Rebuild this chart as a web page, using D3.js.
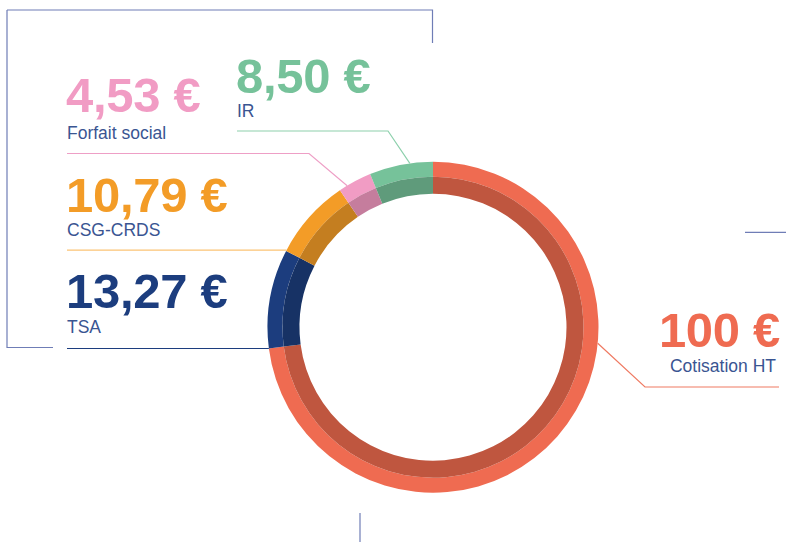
<!DOCTYPE html>
<html>
<head>
<meta charset="utf-8">
<script src="https://cdn.jsdelivr.net/npm/d3@7"></script>
<style>
  html, body { margin: 0; padding: 0; background: #fff; }
  svg { display: block; }
</style>
</head>
<body>
<div id="chart"></div>
<script>
// data
const categories = ["Cotisation HT", "TSA", "CSG-CRDS", "Forfait social", "IR"];
const amounts = [100, 13.27, 10.79, 4.53, 8.50];
const amountLabels = ["100 €", "13,27 €", "10,79 €", "4,53 €", "8,50 €"];
const lightColors = ["#ef6b51", "#1c3d7e", "#f39c27", "#f19cc4", "#76c29a"];
const darkColors = ["#bf563f", "#173265", "#c47e20", "#c57d9d", "#5f9b7b"];
const lineColors = ["#ef7a62", "#1c3d7e", "#fbc374", "#ee9fc6", "#8dd0ac"];

const width = 786, height = 542;
const cx = 433, cy = 327.2;
const rOuter = 165.5, rMid = 150.5, rInner = 133.5;

// label placement (layout only)
const layout = {
  "Cotisation HT": { x: 780, y: 347, subX: 776, subY: 372, anchor: "end", t: 0.364, pts: [[645, 387], [779, 387]] },
  "TSA":           { x: 66, y: 308, subX: 67, subY: 333, anchor: "start", t: 0.0, pts: [[67, null]] },
  "CSG-CRDS":      { x: 66, y: 211.5, subX: 67, subY: 236, anchor: "start", t: 0.01, pts: [[67, null]] },
  "Forfait social":{ x: 66, y: 111.5, subX: 67, subY: 139, anchor: "start", t: 0.25, pts: [[309, 153.5], [67, 153.5]] },
  "IR":            { x: 236, y: 92.5, subX: 237, subY: 117, anchor: "start", t: 0.64, pts: [[388, 131], [237, 131]] }
};

const svg = d3.select("#chart")
    .append("svg")
    .attr("width", width)
    .attr("height", height);

// decorative frame lines
const frameColor = "#6f7db6";
const frame = [
  [[7, 10], [432.5, 10], [432.5, 43]],
  [[7, 10], [7, 347.5], [53, 347.5]],
  [[745, 232.3], [786, 232.3]],
  [[360, 513], [360, 542]]
];
svg.selectAll("polyline.frame")
    .data(frame)
    .join("polyline")
    .attr("class", "frame")
    .attr("points", d => d.join(" "))
    .attr("fill", "none")
    .attr("stroke", frameColor)
    .attr("stroke-width", 1.2);

const pie = d3.pie()
    .sort(null)
    .value(d => d.value);

const data = categories.map((c, i) => ({ name: c, value: amounts[i], i: i }));
const slices = pie(data);

const arcOuter = d3.arc().innerRadius(rMid).outerRadius(rOuter);
const arcInner = d3.arc().innerRadius(rInner).outerRadius(rMid);

const g = svg.append("g").attr("transform", `translate(${cx}, ${cy})`);

g.selectAll("path.outer")
    .data(slices)
    .join("path")
    .attr("class", "outer")
    .attr("d", arcOuter)
    .attr("fill", d => lightColors[d.data.i]);

g.selectAll("path.inner")
    .data(slices)
    .join("path")
    .attr("class", "inner")
    .attr("d", arcInner)
    .attr("fill", d => darkColors[d.data.i]);

// leader lines
function anchorPoint(d) {
  const L = layout[d.data.name];
  const a = d.startAngle + L.t * (d.endAngle - d.startAngle);
  return [cx + rOuter * Math.sin(a), cy - rOuter * Math.cos(a)];
}

svg.selectAll("polyline.leader")
    .data(slices)
    .join("polyline")
    .attr("class", "leader")
    .attr("fill", "none")
    .attr("stroke", d => lineColors[d.data.i])
    .attr("stroke-width", 1.2)
    .attr("points", d => {
      const p0 = anchorPoint(d);
      const rest = layout[d.data.name].pts.map(p => [p[0], p[1] === null ? p0[1] : p[1]]);
      return [p0, ...rest].join(" ");
    });

// amount labels
svg.selectAll("text.amount")
    .data(slices)
    .join("text")
    .attr("class", "amount")
    .attr("x", d => layout[d.data.name].x)
    .attr("y", d => layout[d.data.name].y)
    .attr("text-anchor", d => layout[d.data.name].anchor)
    .attr("fill", d => lightColors[d.data.i])
    .style("font-family", "'Liberation Sans', Arial, sans-serif")
    .style("font-weight", "bold")
    .style("font-size", "49px")
    .style("letter-spacing", "-0.3px")
    .text(d => amountLabels[d.data.i]);

// category labels
svg.selectAll("text.cat")
    .data(slices)
    .join("text")
    .attr("class", "cat")
    .attr("x", d => layout[d.data.name].subX)
    .attr("y", d => layout[d.data.name].subY)
    .attr("text-anchor", d => layout[d.data.name].anchor)
    .attr("fill", "#3a5592")
    .style("font-family", "'Liberation Sans', Arial, sans-serif")
    .style("font-size", "17.5px")
    .text(d => d.data.name);
</script>
</body>
</html>
